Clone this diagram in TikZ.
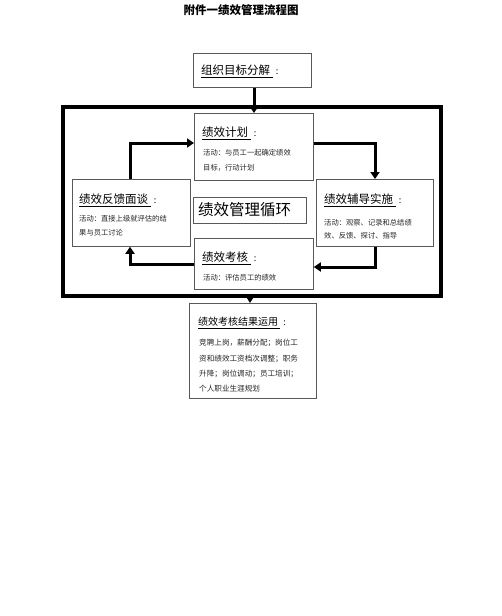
\documentclass[tikz,border=0pt]{standalone}
\usepackage{fontspec}
\setmainfont{Noto Sans CJK SC}
\newfontfamily\cjk{Noto Sans CJK SC}
\usetikzlibrary{arrows.meta}
\tikzset{
  box/.style={draw=black!65, line width=0.8pt, inner sep=0pt, anchor=north west, fill=white},
  hd/.style={anchor=west, inner sep=0pt, font=\cjk\fontsize{11.5}{13}\selectfont},
  sm/.style={anchor=west, inner sep=0pt, font=\cjk\fontsize{7.3}{9}\selectfont, text=black!85},
  flow/.style={line width=3pt, -{Triangle[length=7pt,width=9pt]}, line join=miter},
  plain/.style={line width=3pt}
}
\newcommand{\hdcolon}{\hspace{3pt}{\fontsize{9}{10}\selectfont :}}
\begin{document}
\begin{tikzpicture}[x=1pt,y=-1pt]
\useasboundingbox[fill=white] (0,0) rectangle (502,616);
% title
\node[anchor=center, inner sep=0pt, font=\cjk\bfseries\fontsize{11.5}{13}\selectfont] (title) at (241,10) {附件一绩效管理流程图};
% frame
\draw[line width=3.5pt] (63,107) rectangle (441,296);
\coordinate (ftop) at (254,107);
\coordinate (fbot) at (250,296);
% boxes
\node[box, minimum width=118pt, minimum height=34pt] (org) at (193,53) {};
\node[box, minimum width=119pt, minimum height=67pt] (plan) at (194,113) {};
\node[box, minimum width=118pt, minimum height=67pt] (fb) at (72,179) {};
\node[box, minimum width=117pt, minimum height=67pt] (coach) at (316,179) {};
\node[box, minimum width=113pt, minimum height=26pt] (cyc) at (193,197) {};
\node[box, minimum width=119pt, minimum height=51pt] (eval) at (194,238) {};
\node[box, minimum width=127pt, minimum height=95pt] (res) at (189,303) {};
% texts
\node[hd] (orgt) at (201,71) {\underline{组织目标分解\ }\hdcolon};
\node[hd] (plant) at (202,133) {\underline{绩效计划\ }\hdcolon};
\node[sm] (plan1) at (203,153) {活动：与员工一起确定绩效};
\node[sm] (plan2) at (203,168) {目标，行动计划};
\node[hd] (fbt) at (79,200) {\underline{绩效反馈面谈\ }\hdcolon};
\node[sm] (fb1) at (79,219) {活动：直接上级就评估的结};
\node[sm] (fb2) at (79,233) {果与员工讨论};
\node[hd] (coacht) at (324,200) {\underline{绩效辅导实施\ }\hdcolon};
\node[sm] (coach1) at (324,223) {活动：观察、记录和总结绩};
\node[sm] (coach2) at (324,236) {效、反馈、探讨、指导};
\node[anchor=west, inner sep=0pt, font=\cjk\fontsize{15.5}{17}\selectfont] (cyct) at (198,210) {绩效管理循环};
\node[hd] (evalt) at (202,258) {\underline{绩效考核\ }\hdcolon};
\node[sm] (eval1) at (203,278) {活动：评估员工的绩效};
\node[hd, font=\cjk\fontsize{10}{12}\selectfont] (rest) at (198,323) {\underline{绩效考核结果运用\ }\hdcolon};
\node[sm, font=\cjk\fontsize{7.6}{9}\selectfont] (res1) at (199,343) {竞聘上岗，薪酬分配；岗位工};
\node[sm, font=\cjk\fontsize{7.6}{9}\selectfont] (res2) at (199,359) {资和绩效工资档次调整；职务};
\node[sm, font=\cjk\fontsize{7.6}{9}\selectfont] (res3) at (199,374) {升降；岗位调动；员工培训；};
\node[sm, font=\cjk\fontsize{7.6}{9}\selectfont] (res4) at (199,389) {个人职业生涯规划};
% connectors
\draw[flow] (org.south -| ftop) -- (plan.north -| ftop);
\draw[flow] (fb.north -| 130,0) -- (130,143) -- (plan.west |- 0,143);
\draw[flow] (plan.east |- 0,143) -- (375,143) -- (coach.north -| 375,0);
\draw[flow] (coach.south -| 375,0) -- (375,267) -- (eval.east |- 0,267);
\draw[flow] (eval.west |- 0,264) -- (130,264) -- (fb.south -| 130,0);
\draw[line width=2pt, -{Triangle[length=6pt,width=7pt]}] (fbot) -- (res.north -| fbot);
\end{tikzpicture}
\end{document}
